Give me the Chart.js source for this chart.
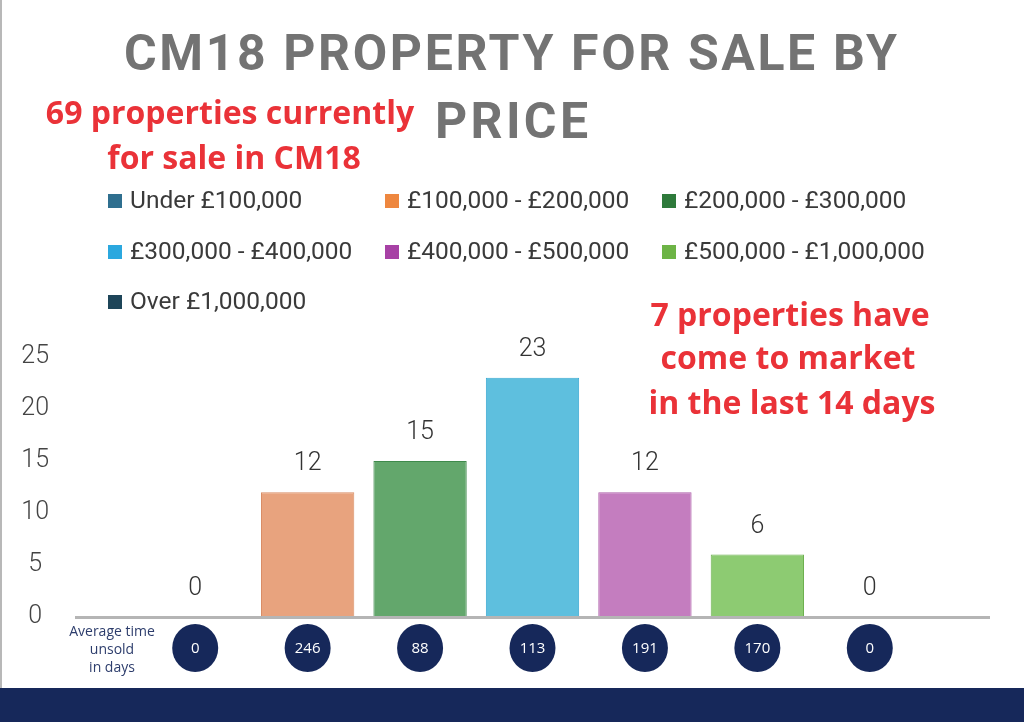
<!DOCTYPE html>
<html lang="en">
<head>
<meta charset="UTF-8">
<title>CM18 Property for sale by price</title>
<style>
  html, body { margin: 0; padding: 0; background: #fff; }
  #wrap { position: relative; width: 1024px; height: 722px; }
</style>
</head>
<body>
<div id="wrap">
  <canvas id="myChart" width="1024" height="722"></canvas>
</div>

<script src="https://cdn.jsdelivr.net/npm/chart.js@4/dist/chart.umd.min.js"></script>
<script>
// categories shown in the legend, one bar each
const priceBands = ['Under £100,000', '£100,000 - £200,000', '£200,000 - £300,000',
  '£300,000 - £400,000', '£400,000 - £500,000', '£500,000 - £1,000,000', 'Over £1,000,000'];
// number of properties for sale in each band
const propertyCounts = [0, 12, 15, 23, 12, 6, 0];
// average time unsold in days
const avgDaysUnsold = [0, 246, 88, 113, 191, 170, 0];
const yTicks = [0, 5, 10, 15, 20, 25];

const legendColors = ['#2f6f8f', '#ee873f', '#2e7a3b', '#2ba8df', '#a741a5', '#6db446', '#1e4559'];
const barColors = ['#2f6f8f', '#e8a37e', '#63a76c', '#5ebfde', '#c47dbf', '#8dcb72', '#1e4559'];
const barEdges = ['#255a75', '#d98d66', '#3f8a4c', '#3aa9d2', '#ad5ea9', '#6db04f', '#173747'];

const navy = '#16285a';
const red = '#ea3238';
const grey = '#737373';

function drawSpaced(ctx, text, x, y, width) {
  // fit text into width by letter spacing, left aligned at x
  ctx.letterSpacing = '0px';
  const w = ctx.measureText(text).width;
  const sp = (width - w) / (text.length - 1);
  ctx.letterSpacing = sp + 'px';
  ctx.textAlign = 'left';
  ctx.fillText(text, x, y);
  ctx.letterSpacing = '0px';
}

const decor = {
  id: 'decor',
  beforeDraw(chart) {
    const ctx = chart.ctx;
    ctx.save();
    ctx.fillStyle = '#ffffff';
    ctx.fillRect(0, 0, chart.width, chart.height);
    // left frame line
    ctx.fillStyle = '#b8b8b8';
    ctx.fillRect(0, 0, 2, 688);
    // bottom band
    ctx.fillStyle = navy;
    ctx.fillRect(0, 688, chart.width, chart.height - 688);

    // title
    ctx.fillStyle = grey;
    ctx.font = 'bold 50px Roboto, "Liberation Sans", sans-serif';
    ctx.textBaseline = 'alphabetic';
    drawSpaced(ctx, 'CM18 PROPERTY FOR SALE BY', 124, 70, 773);
    drawSpaced(ctx, 'PRICE', 435, 138, 153);

    // red notes
    ctx.fillStyle = red;
    ctx.font = 'bold 32px "Open Sans", sans-serif';
    ctx.textAlign = 'center';
    ctx.textBaseline = 'middle';
    ctx.fillText('69 properties currently', 230, 115);
    ctx.fillText('for sale in CM18', 234, 160);
    ctx.fillText('7 properties have', 790, 317);
    ctx.fillText('come to market', 788, 360);
    ctx.fillText('in the last 14 days', 792, 405);

    // legend
    const cols = [108, 385, 662];
    const rows = [201, 252, 302];
    ctx.font = '24.5px Roboto, "Liberation Sans", sans-serif';
    ctx.textAlign = 'left';
    priceBands.forEach((label, i) => {
      const x = cols[i % 3], y = rows[Math.floor(i / 3)];
      ctx.fillStyle = legendColors[i];
      ctx.fillRect(x, y - 7, 14, 14);
      ctx.fillStyle = '#3a3a3a';
      ctx.fillText(label, x + 22, y + 1);
    });
    ctx.restore();
  },
  afterDatasetsDraw(chart) {
    const ctx = chart.ctx;
    const xs = chart.scales.x, ys = chart.scales.y;
    const y0 = ys.getPixelForValue(0);
    ctx.save();
    // base line
    ctx.strokeStyle = '#b5b5b5';
    ctx.lineWidth = 3;
    ctx.beginPath();
    ctx.moveTo(75, y0 + 0.5);
    ctx.lineTo(990, y0 + 0.5);
    ctx.stroke();

    // value labels
    const meta = chart.getDatasetMeta(0);
    ctx.fillStyle = '#333';
    ctx.font = '300 25px Roboto, "Liberation Sans", sans-serif';
    ctx.textAlign = 'center';
    ctx.textBaseline = 'middle';
    meta.data.forEach((bar, i) => {
      ctx.fillText(String(propertyCounts[i]), bar.x, bar.y - 28);
    });

    // average time unsold circles
    ctx.font = '15px "Open Sans", sans-serif';
    avgDaysUnsold.forEach((d, i) => {
      const cx = xs.getPixelForValue(i);
      ctx.fillStyle = navy;
      ctx.beginPath();
      ctx.ellipse(cx, 648, 23, 24, 0, 0, Math.PI * 2);
      ctx.fill();
      ctx.fillStyle = '#ffffff';
      ctx.fillText(String(d), cx, 649);
    });

    ctx.fillStyle = '#2d3d6c';
    ctx.font = '14px "Open Sans", sans-serif';
    ctx.fillText('Average time', 112, 632);
    ctx.fillText('unsold', 112, 650);
    ctx.fillText('in days', 112, 668);
    ctx.restore();
  }
};

const ctx = document.getElementById('myChart').getContext('2d');

const chart = new Chart(ctx, {
  type: 'bar',
  data: {
    labels: priceBands,
    datasets: [{
      label: 'Properties for sale',
      data: propertyCounts,
      backgroundColor: barColors,
      borderColor: barEdges,
      borderWidth: 1,
      barPercentage: 0.83,
      categoryPercentage: 1.0
    }]
  },
  options: {
    responsive: false,
    animation: false,
    devicePixelRatio: 1,
    layout: { padding: { left: 0, top: 357, right: 98, bottom: 104 } },
    plugins: {
      legend: { display: false },
      tooltip: { enabled: false }
    },
    scales: {
      x: { display: false },
      y: {
        min: 0,
        max: 25,
        afterFit: s => { s.width = 139; },
        afterBuildTicks: s => { s.ticks = yTicks.map(v => ({ value: v })); },
        grid: { display: false, drawTicks: false },
        border: { display: false },
        ticks: {
          crossAlign: 'center',
          padding: 90,
          color: '#444',
          font: { family: 'Roboto, "Liberation Sans", sans-serif', size: 25, weight: '300' }
        }
      }
    }
  },
  plugins: [decor]
});
</script>
</body>
</html>
